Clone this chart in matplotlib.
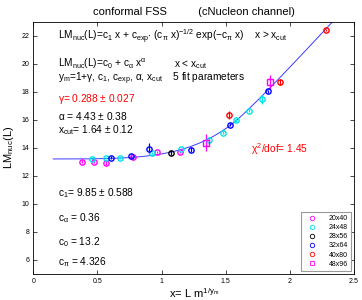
import numpy as np
import matplotlib.pyplot as plt
from matplotlib.lines import Line2D

plt.rcParams['font.family'] = ['Liberation Sans', 'DejaVu Sans']
plt.rcParams['mathtext.fontset'] = 'custom'
plt.rcParams['mathtext.rm'] = 'Liberation Sans'
plt.rcParams['mathtext.it'] = 'Liberation Sans'

# data: (x, y, err)
s20x40_x = [0.377, 0.477, 0.566, 0.775, 0.961, 1.146]
s20x40_y = [13.0, 13.0, 12.9, 13.33, 13.7, 13.7]
s20x40_e = [0.1, 0.1, 0.12, 0.1, 0.1, 0.1]

s24x48_x = [0.455, 0.566, 0.675, 0.922, 1.15, 1.371, 1.475, 1.579, 1.68, 1.779]
s24x48_y = [13.2, 13.27, 13.27, 13.6, 13.9, 14.56, 15.07, 15.97, 16.65, 17.45]
s24x48_e = [0.08, 0.08, 0.08, 0.08, 0.08, 0.1, 0.1, 0.1, 0.1, 0.3]

s28x56_x = [1.075]
s28x56_y = [13.66]
s28x56_e = [0.2]

s32x64_x = [0.605, 0.758, 0.898, 1.228, 1.537, 1.828]
s32x64_y = [13.3, 13.43, 13.92, 13.87, 15.65, 18.02]
s32x64_e = [0.08, 0.15, 0.4, 0.2, 0.1, 0.1]

s40x80_x = [1.527, 1.921, 2.285]
s40x80_y = [16.33, 18.7, 22.4]
s40x80_e = [0.3, 0.2, 0.1]

s48x96_x = [1.347, 1.843]
s48x96_y = [14.37, 18.68]
s48x96_e = [0.6, 0.5]

series = [
    ("20x40", s20x40_x, s20x40_y, s20x40_e, "#ff00ff", "o"),
    ("24x48", s24x48_x, s24x48_y, s24x48_e, "#00e5e5", "o"),
    ("28x56", s28x56_x, s28x56_y, s28x56_e, "black", "o"),
    ("32x64", s32x64_x, s32x64_y, s32x64_e, "#0000ff", "o"),
    ("40x80", s40x80_x, s40x80_y, s40x80_e, "#ff0000", "o"),
    ("48x96", s48x96_x, s48x96_y, s48x96_e, "#ff00ff", "s"),
]

# fit parameters shown on the chart
c0, c_alpha, alpha, c1, c_pi, x_cut = 13.2, 0.36, 4.43, 9.85, 4.326, 1.64

fig = plt.figure(figsize=(3.62, 3.0), dpi=100)
ax = fig.add_axes([0.092, 0.087, 0.886, 0.841])

# fit curve
xf = np.linspace(0.156, 2.34, 300)
low = c0 + c_alpha * xf**alpha
ycut = c0 + c_alpha * x_cut**alpha
c_exp = (ycut - c1 * x_cut) * np.sqrt(c_pi * x_cut) * np.exp(c_pi * x_cut)
high = c1 * xf + c_exp * (c_pi * xf)**-0.5 * np.exp(-c_pi * xf)
ax.plot(xf, np.where(xf < x_cut, low, high), color="#3a3aff", lw=0.7)

handles = []
for name, xs, ys, es, col, mk in series:
    ax.errorbar(xs, ys, yerr=es, fmt=mk, color=col, mfc="none", ms=3.8,
                mew=1.0, elinewidth=0.9, capsize=0)
    handles.append(Line2D([], [], ls="none", marker=mk, color=col, mfc="none",
                          ms=3.2, mew=0.6, label=name))

ax.set_xlim(0, 2.5)
ax.set_ylim(5, 23)
ax.set_xticks([0, 0.5, 1, 1.5, 2, 2.5])
ax.set_xticklabels(["0", "0.5", "1", "1.5", "2", "2.5"])
ax.set_yticks(range(6, 23, 2))
ax.tick_params(direction="in", top=True, right=True, labelsize=5, length=3, width=0.5, pad=3)
for sp in ax.spines.values():
    sp.set_linewidth(0.6)

fs = 7.3
ax.text(0.19, 21.9, r"LM$_{\rm nuc}$(L)=c$_1$ x + c$_{\rm exp}$$\cdot$ (c$_\pi$ x)$^{-1/2}$ exp($-$c$_\pi$ x)    x > x$_{\rm cut}$",
        fontsize=fs, va="center")
ax.text(0.19, 20.0, r"LM$_{\rm nuc}$(L)=c$_0$ + c$_\alpha$ x$^\alpha$", fontsize=fs, va="center")
ax.text(1.1, 19.9, r"x < x$_{\rm cut}$", fontsize=fs, va="center")
ax.text(0.19, 18.95, r"y$_{\rm m}$=1+$\gamma$, c$_1$, c$_{\rm exp}$, $\alpha$, x$_{\rm cut}$    5 fit parameters",
        fontsize=fs, va="center")
ax.text(0.19, 17.45, r"$\gamma$= 0.288 $\pm$ 0.027", fontsize=fs, va="center", color="red")
ax.text(0.19, 16.3, r"$\alpha$ = 4.43 $\pm$ 0.38", fontsize=fs, va="center")
ax.text(0.19, 15.25, r"x$_{\rm cut}$= 1.64 $\pm$ 0.12", fontsize=fs, va="center")
ax.text(1.7, 13.9, r"$\chi^2$/dof= 1.45", fontsize=fs, va="center", color="red")
ax.text(0.19, 10.75, r"c$_1$= 9.85 $\pm$ 0.588", fontsize=fs, va="center")
ax.text(0.19, 8.95, r"c$_\alpha$ = 0.36", fontsize=fs, va="center")
ax.text(0.19, 7.25, r"c$_0$ = 13.2", fontsize=fs, va="center")
ax.text(0.19, 5.85, r"c$_\pi$ = 4.326", fontsize=fs, va="center")

ax.set_title("conformal FSS          (cNucleon channel)", fontsize=8, pad=5)
ax.set_xlabel(r"x= L m$^{1/y_{\rm m}}$", fontsize=8, labelpad=1)
ax.set_ylabel(r"LM$_{\rm nuc}$(L)", fontsize=8, labelpad=4)

leg = ax.legend(handles=handles, loc="lower right", fontsize=5, handletextpad=1.4,
                borderpad=0.5, labelspacing=0.3, fancybox=False, framealpha=1,
                edgecolor="#999999", borderaxespad=0.4)
leg.get_frame().set_linewidth(0.8)

fig.savefig("out.png", dpi=100)
